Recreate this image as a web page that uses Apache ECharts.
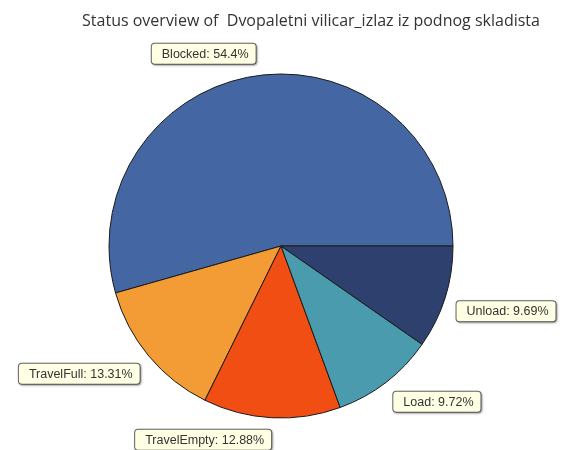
<!DOCTYPE html>
<html>
<head>
<meta charset="utf-8">
<script src="https://cdn.jsdelivr.net/npm/echarts@6/dist/echarts.min.js"></script>
<style>
  html, body { margin: 0; padding: 0; background: #fff; }
  #chart { width: 563px; height: 450px; }
</style>
</head>
<body>
<div id="chart"></div>
<script>
const categories = ['Blocked', 'TravelFull', 'TravelEmpty', 'Load', 'Unload']
const values = [54.4, 13.31, 12.88, 9.72, 9.69]
const colors = ['#4466A3', '#F39C35', '#F04E12', '#4A9BAD', '#2D406E']

const cx = 281
const cy = 246
const radius = 172

const chart = echarts.init(document.getElementById('chart'))

// put the label's nearest corner on the end of the (hidden) label line
function placeLabel(params) {
  const pts = params.labelLinePoints
  if (!pts) return {}
  const end = pts[pts.length - 1]
  return {
    x: end[0],
    y: end[1],
    align: end[0] < cx ? 'right' : 'left',
    verticalAlign: end[1] < cy ? 'bottom' : 'top'
  }
}

const option = {
  animation: false,
  title: {
    text: 'Status overview of  Dvopaletni vilicar_izlaz iz podnog skladista',
    left: 306,
    top: 8,
    textAlign: 'center',
    textStyle: {
      fontFamily: 'Open Sans',
      fontWeight: 'normal',
      fontSize: 16,
      color: '#333'
    }
  },
  series: [
    {
      type: 'pie',
      center: [cx, cy],
      radius: radius,
      startAngle: 0,
      clockwise: false,
      avoidLabelOverlap: false,
      itemStyle: {
        borderColor: '#1a1a1a',
        borderWidth: 1
      },
      label: {
        show: true,
        position: 'outside',
        formatter: (p) => p.name + ': ' + p.value + '%',
        fontFamily: 'Liberation Sans',
        fontSize: 12.5,
        color: '#333',
        backgroundColor: '#FFFFE3',
        borderColor: '#666',
        borderWidth: 1,
        borderRadius: 3,
        padding: [4, 7, 3, 10],
        shadowColor: 'rgba(0,0,0,0.3)',
        shadowBlur: 2,
        shadowOffsetX: 1,
        shadowOffsetY: 1
      },
      labelLine: {
        show: true,
        length: 12,
        length2: 0,
        lineStyle: { opacity: 0 }
      },
      labelLayout: placeLabel,
      data: categories.map((name, i) => ({
        name: name,
        value: values[i],
        itemStyle: { color: colors[i] }
      }))
    }
  ]
}

chart.setOption(option)
</script>
</body>
</html>
